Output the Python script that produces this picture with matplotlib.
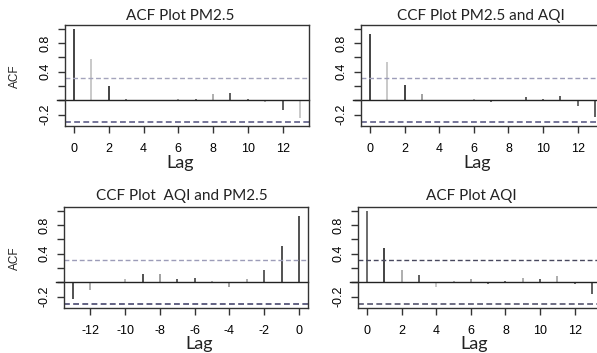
import matplotlib
matplotlib.use("Agg")
import matplotlib.pyplot as plt
import numpy as np

# ---------------- data ----------------
lags_pos = list(range(0, 14))
lags_neg = list(range(-13, 1))

acf_pm25 = [1.00, 0.58, 0.20, 0.02, 0.005, 0.0, 0.01, 0.02, 0.08, 0.10, 0.02, -0.03, -0.14, -0.25]
ccf_pm25_aqi = [0.92, 0.53, 0.21, 0.09, 0.005, 0.0, 0.01, -0.02, 0.0, 0.05, 0.02, 0.06, -0.08, -0.23]
ccf_aqi_pm25 = [-0.23, -0.11, 0.0, 0.04, 0.11, 0.11, 0.05, 0.06, 0.01, -0.06, 0.05, 0.175, 0.50, 0.92]
acf_aqi = [1.00, 0.48, 0.17, 0.10, -0.06, 0.02, 0.04, -0.02, 0.02, 0.06, 0.05, 0.08, -0.02, -0.16]

conf_limits = [0.305, 0.305, 0.305, 0.305]

titles = ["ACF Plot PM2.5", "CCF Plot PM2.5 and AQI", "CCF Plot  AQI and PM2.5", "ACF Plot AQI"]
xticks_pos = [0, 2, 4, 6, 8, 10, 12]
xticks_neg = [-12, -10, -8, -6, -4, -2, 0]
yticks = [-0.2, 0.0, 0.2, 0.4, 0.6, 0.8, 1.0]
ytick_labels = ["-0.2", "", "", "0.4", "", "0.8", ""]

# ---------------- style ----------------
shades = [
    ["#111", "#bbb", "#111", "#555", "#aaa", "#999", "#888", "#444", "#999", "#333", "#444", "#999", "#333", "#bbb"],
    ["#111", "#bbb", "#111", "#888", "#999", "#999", "#999", "#444", "#999", "#333", "#444", "#333", "#444", "#333"],
    ["#222", "#999", "#999", "#aaa", "#222", "#888", "#333", "#333", "#999", "#888", "#999", "#333", "#222", "#222"],
    ["#444", "#111", "#999", "#333", "#bbb", "#999", "#888", "#444", "#444", "#999", "#333", "#999", "#444", "#333"],
]
dash_cols = [("#a4a4bc", "#5e5e88"), ("#9c9cb8", "#5e5e88"), ("#9c9cb8", "#48486e"), ("#48485e", "#55556e")]

W, H = 597, 353
fig = plt.figure(figsize=(W / 100, H / 100), dpi=100)

# axes boxes in pixels: left, top, right, bottom
boxes = [(65, 25, 309, 126), (361, 25, 604, 126), (64, 207, 308, 308), (358, 207, 601, 308)]
title_cx = [180, 481, 182, 471]
title_y = [16, 16, 196, 196]
lag_cx = [180, 477, 199, 474]
lag_base = [168, 168, 349, 349]

series = [acf_pm25, ccf_pm25_aqi, ccf_aqi_pm25, acf_aqi]
lagsets = [lags_pos, lags_pos, lags_neg, lags_pos]
tickset = [xticks_pos, xticks_pos, xticks_neg, xticks_pos]

tick_font = dict(family=["Liberation Sans", "DejaVu Sans"], size=9)
title_font = ["Lato", "DejaVu Sans"]

for i in range(4):
    l, t, r, b = boxes[i]
    ax = fig.add_axes([l / W, (H - b) / H, (r - l) / W, (b - t) / H])
    lags = lagsets[i]
    vals = series[i]
    lo, hi = min(lags), max(lags)
    span = hi - lo
    ax.set_xlim(lo - 0.04 * span, hi + 0.04 * span)
    ax.set_ylim(-0.36, 1.05)
    ax.vlines(lags, 0, vals, colors=shades[i], linewidth=1.1)
    x0, x1 = ax.get_xlim()
    ax.plot([x0 - 0.45, x1], [0, 0], color="#222", linewidth=1.0, clip_on=False)
    ax.axhline(conf_limits[i], color=dash_cols[i][0], linestyle=(0, (3.5, 2)), linewidth=1.0)
    ax.axhline(-conf_limits[i], color=dash_cols[i][1], linestyle=(0, (3.5, 2)), linewidth=1.2)
    for s in ax.spines.values():
        s.set_color("#333")
        s.set_linewidth(1.0)
    ax.set_xticks(tickset[i])
    ax.set_xticklabels([str(v) for v in tickset[i]], **tick_font)
    ax.set_yticks(yticks)
    ax.set_yticklabels(ytick_labels, rotation=90, va="center", **tick_font)
    ax.tick_params(axis="both", length=5, width=1.0, color="#333", direction="out", pad=5)
    ax.tick_params(axis="x", pad=7)
    fig.text(title_cx[i] / W, 1 - title_y[i] / H, titles[i], ha="center", va="center",
             family=title_font, fontsize=11, color="#222")
    fig.text(lag_cx[i] / W, 1 - lag_base[i] / H, "Lag",
             ha="center", va="baseline", family=title_font, fontsize=13, color="#222")

# y labels
for yc in (76, 258):
    fig.text(15 / W, 1 - yc / H, "ACF", rotation=90, ha="center", va="center",
             family=["Liberation Sans", "DejaVu Sans"], fontsize=8.5, color="#222")

fig.savefig("out.png", dpi=100)
